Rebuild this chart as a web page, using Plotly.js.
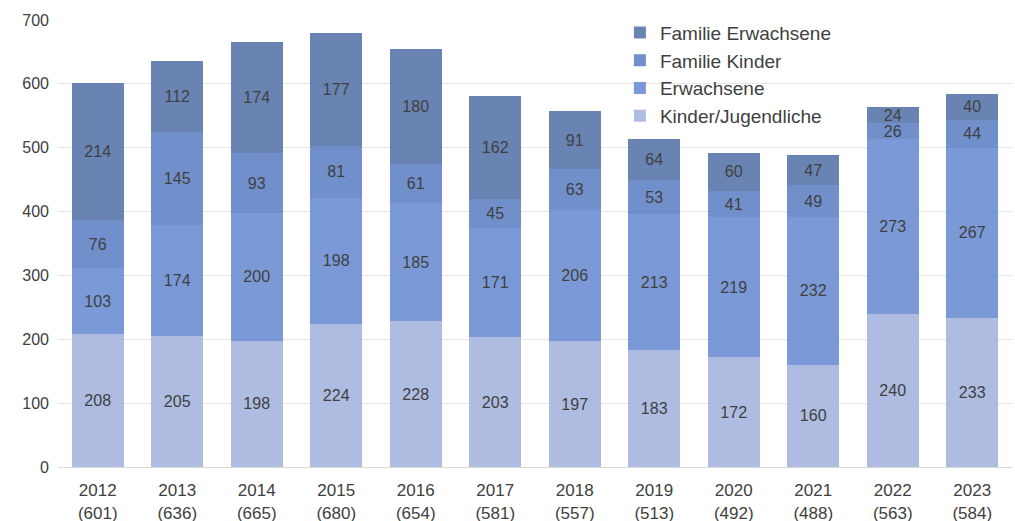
<!DOCTYPE html>
<html><head><meta charset="utf-8">
<script src="https://cdn.plot.ly/plotly-3.0.1.min.js"></script>
<style>html,body{margin:0;padding:0;background:#fff}#chart{width:1015px;height:521px}</style>
</head><body><div id="chart"></div>
<script>
const years = ["2012","2013","2014","2015","2016","2017","2018","2019","2020","2021","2022","2023"];
const totals = [601,636,665,680,654,581,557,513,492,488,563,584];
const kinderJugendliche = [208,205,198,224,228,203,197,183,172,160,240,233];
const erwachsene = [103,174,200,198,185,171,206,213,219,232,273,267];
const familieKinder = [76,145,93,81,61,45,63,53,41,49,26,44];
const familieErwachsene = [214,112,174,177,180,162,91,64,60,47,24,40];

const cats = years.map((y,i)=> y + "<br>(" + totals[i] + ")");
const series = [
  {name:"Kinder/Jugendliche", y:kinderJugendliche, color:"rgba(166,181,222,0.9)"},
  {name:"Erwachsene", y:erwachsene, color:"rgba(107,142,210,0.9)"},
  {name:"Familie Kinder", y:familieKinder, color:"rgba(98,131,196,0.9)"},
  {name:"Familie Erwachsene", y:familieErwachsene, color:"rgba(89,118,170,0.9)"}
];
const traces = series.map(s=>({
  type:"bar", name:s.name, x:cats, y:s.y,
  marker:{color:s.color, line:{width:0}},
  text:s.y.map(String), textposition:"inside", insidetextanchor:"middle",
  textfont:{color:"#404040", size:16}, constraintext:"none",
  hoverinfo:"x+y+name"
}));
const layout = {
  barmode:"stack", bargap:0.34,
  width:1015, height:521,
  margin:{l:58,r:3,t:20,b:54},
  paper_bgcolor:"#fff", plot_bgcolor:"#fff",
  font:{family:"Liberation Sans, Arial, sans-serif", color:"#404040", size:16},
  xaxis:{type:"category", showgrid:false, showline:true, linecolor:"#d9d9d9", linewidth:1, ticks:"", ticklabelstandoff:8, tickfont:{size:17,color:"#404040"}},
  yaxis:{range:[0,700], dtick:100, showgrid:true, gridcolor:"#e6e6e6", gridwidth:1, zeroline:false, showline:false, ticks:"", ticklabelstandoff:8, tickfont:{size:16,color:"#404040"}},
  legend:{x:0.589, y:1.014, xanchor:"left", yanchor:"top", traceorder:"reversed", bgcolor:"rgba(0,0,0,0)", font:{size:19,color:"#404040"}, itemwidth:20, tracegroupgap:0},
  showlegend:true
};
Plotly.newPlot("chart", traces, layout, {displayModeBar:false, staticPlot:true});
</script></body></html>
